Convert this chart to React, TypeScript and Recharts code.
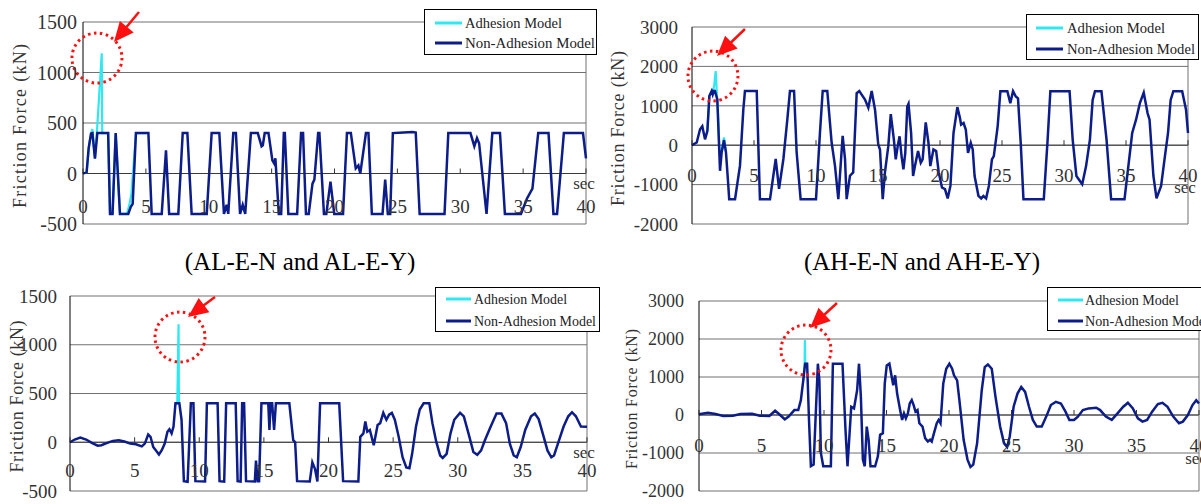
import React from 'react';
import { LineChart, Line, XAxis, YAxis, CartesianGrid, ReferenceLine, ReferenceDot } from 'recharts';

type Pt = [number, number];

const SERIF = "'Liberation Serif', 'DejaVu Serif', serif";
const NAVY = '#0c1d8a';
const CYAN = '#2fe8f2';
const RED = '#ff1010';

const xTicks = [0, 5, 10, 15, 20, 25, 30, 35, 40];
const alTicks = [-500, 0, 500, 1000, 1500];
const ahTicks = [-2000, -1000, 0, 1000, 2000, 3000];

// top left: AL-E-N / AL-E-Y
const tlNonAdh: Pt[] = [
  [0, 0], [0.29, 15], [0.45, 250], [0.64, 396], [0.75, 400], [0.95, 148], [1.14, 400], [2.0, 400], [2.15, -400],
  [2.35, -400], [2.6, 400], [2.94, -400], [3.6, -400], [3.8, -330], [3.95, -300], [4.21, 400], [5.2, 400],
  [5.46, -400], [6.26, -400], [6.6, 230], [6.85, -400], [7.58, -400], [7.93, 400], [8.3, 400], [8.64, -400],
  [9.84, -400], [10.23, 400], [10.84, 400], [11.21, -400], [11.42, -310], [11.55, -400], [11.95, 400], [12.16, 400],
  [12.49, -400], [12.7, -310], [12.9, -400], [13.35, 400], [13.9, 400], [14.2, 270], [14.3, 280], [14.45, 400],
  [14.75, 400], [15.06, 130], [15.2, 100], [15.3, 150], [15.57, -400], [15.76, -400], [15.97, 400], [16.05, 400],
  [16.33, -400], [17.03, -400], [17.34, 400], [17.5, 400], [17.73, -400], [17.95, -400], [18.25, -100], [18.4, -60],
  [18.7, 400], [18.8, 400], [19.16, -400], [19.35, -400], [19.68, -80], [19.98, -400], [20.68, -400], [20.99, 400],
  [21.3, 400], [21.69, 50], [21.9, 80], [22.05, 0], [22.5, 400], [22.7, 400], [22.97, -400], [23.82, -400],
  [24.03, -60], [24.24, -400], [24.43, -400], [24.64, 400], [25.5, 405], [26.2, 410], [26.46, 405], [26.77, -400],
  [28.75, -400], [29.05, 400], [30.81, 400], [31.12, 270], [31.33, 350], [31.5, 300], [32.09, -400], [32.55, 400],
  [33.16, 400], [33.55, -400], [34.83, -400], [35.3, -250], [35.74, -150], [36.2, 400], [37.02, 400], [37.41, -400],
  [37.7, -400], [38.24, 400], [39.76, 400], [40, 150],
];
const tlAdh: Pt[] = [
  [0, 0], [0.29, 15], [0.5, 300], [0.74, 440], [0.95, 150], [1.1, 400], [1.25, 700], [1.4, 1000], [1.49, 1190],
  [1.53, 400], [2.0, 400], [2.15, -400], [2.35, -400], [2.6, 400], [2.94, -400], [3.5, -400], [3.7, -300],
  [3.85, -200], [4.21, 400], [5.0, 400],
];

// top right: AH-E-N / AH-E-Y
const trNonAdh: Pt[] = [
  [0, 0], [0.38, 68], [0.65, 405], [0.83, 480], [1.05, 150], [1.24, 362], [1.4, 1247], [1.59, 1375], [1.67, 1290],
  [1.75, 1375], [1.85, 1375], [2.04, 1164], [2.26, -650], [2.39, -180], [2.58, 130], [2.74, -180], [2.92, -990],
  [3.0, -1370], [3.47, -1370], [3.87, -520], [4.14, 910], [4.27, 1375], [5.22, 1375], [5.48, -1370], [6.29, -1370],
  [6.75, -350], [7.02, -1110], [7.37, -350], [7.69, 660], [7.9, 1375], [8.23, 1375], [8.44, -185], [8.76, -1370],
  [10.0, -1370], [10.32, 320], [10.54, 1375], [10.91, 1375], [11.26, 68], [11.53, -520], [11.8, -1370], [12.15, 236],
  [12.34, -350], [12.47, -1370], [12.74, -775], [13.0, -690], [13.28, 1320], [13.49, 1375], [13.95, 1160],
  [14.22, 950], [14.49, 1375], [14.76, 900], [15.02, 17], [15.16, -110], [15.38, -1370], [15.56, -690], [15.83, -25],
  [16.03, 790], [16.28, 143], [16.43, -360], [16.59, -25], [16.74, 227], [16.9, -277], [17.05, -613], [17.2, -193],
  [17.36, 983], [17.46, 1050], [17.67, 310], [17.83, -781], [17.98, -530], [18.23, -150], [18.45, -445], [18.6, -360],
  [18.85, 580], [19.07, 59], [19.22, -530], [19.47, -109], [19.69, -150], [19.9, -697], [20.16, -1075], [20.4, -1117],
  [20.62, -1350], [20.84, -1033], [21.09, 310], [21.4, 966], [21.61, 689], [21.7, 520], [21.9, 563], [22.08, 395],
  [22.26, -193], [22.48, 59], [22.64, -109], [22.79, -781], [23.1, -1285], [23.32, -1350], [23.5, -1290],
  [23.72, -1350], [23.94, -1033], [24.19, -360], [24.34, -277], [24.65, 479], [24.87, 1370], [25.43, 1370],
  [25.67, 1067], [25.89, 1370], [26.11, 1235], [26.29, 1190], [26.51, 59], [26.73, -1370], [28.37, -1370],
  [28.68, 143], [28.9, 1370], [30.45, 1370], [30.7, 143], [31.0, -781], [31.47, -990], [31.78, -530], [32.09, 143],
  [32.31, 1150], [32.5, 1370], [33.02, 1370], [33.43, 143], [33.8, -1370], [34.88, -1370], [35.19, -530],
  [35.5, 310], [35.81, 647], [36.12, 1067], [36.43, 1335], [36.74, 815], [36.9, 647], [37.21, -781], [37.46, -1350],
  [37.83, -1033], [38.14, -277], [38.39, 310], [38.6, 1150], [38.82, 1370], [39.53, 1370], [39.84, 900], [40, 310],
];
const trAdh: Pt[] = [
  [1.24, 362], [1.4, 1247], [1.59, 1375], [1.67, 1290], [1.8, 1550], [1.91, 1880], [2.0, 1350], [2.1, 800],
  [2.2, 0], [2.3, -250], [2.45, -100], [2.58, 200], [2.74, -180],
];

// bottom left
const blNonAdh: Pt[] = [
  [0, 0], [0.36, 28], [0.8, 49], [1.25, 28], [1.69, -7], [2.14, -35], [2.43, -31], [2.88, -7], [3.32, 14],
  [3.77, 21], [4.21, 7], [4.66, -14], [5.1, -21], [5.55, -42], [5.79, -14], [6.05, 80], [6.23, 56], [6.44, -49],
  [6.74, -101], [6.88, -126], [7.09, -84], [7.33, -14], [7.54, 108], [7.69, 133], [7.86, 91], [8.01, 161],
  [8.16, 399], [8.46, 399], [8.63, 231], [8.81, -399], [9.1, -405], [9.35, 399], [9.55, 399], [9.7, -399],
  [10.45, -403], [10.59, 399], [11.42, 399], [11.57, -399], [11.93, -403], [12.08, 399], [12.82, 399], [12.97, -399],
  [13.2, -403], [13.32, 399], [13.47, 399], [13.62, -399], [14.3, -403], [14.39, -189], [14.51, -399], [14.63, -399],
  [14.81, 399], [15.34, 399], [15.43, 126], [15.52, 399], [15.64, 399], [15.79, 126], [15.93, 399], [16.97, 399],
  [17.27, 21], [17.42, 0], [17.57, -399], [18.55, -403], [18.75, -206], [18.96, -276], [19.14, -403], [19.35, 399],
  [20.83, 399], [21.13, -399], [22.31, -403], [22.46, 56], [22.7, 91], [22.85, 213], [23.0, 108], [23.2, 126],
  [23.5, -31], [23.8, 178], [24.0, 196], [24.24, 301], [24.48, 231], [24.69, 283], [24.9, 301], [25.13, 231],
  [25.43, 56], [25.73, -154], [26.02, -259], [26.26, -266], [26.47, -119], [26.77, 161], [27.06, 336], [27.36, 399],
  [27.8, 399], [28.04, 196], [28.34, 3], [28.64, -136], [28.84, -161], [29.14, -119], [29.44, 91], [29.73, 231],
  [30.18, 301], [30.47, 266], [30.83, 91], [31.21, -101], [31.51, -129], [31.81, -84], [32.1, 21], [32.55, 161],
  [33.0, 294], [33.38, 294], [33.74, 196], [34.03, -14], [34.33, -136], [34.57, -154], [34.87, -49], [35.22, 126],
  [35.67, 266], [35.96, 294], [36.26, 238], [36.65, 56], [36.94, -84], [37.24, -154], [37.45, -136], [37.84, 21],
  [38.19, 161], [38.55, 266], [38.84, 308], [39.14, 266], [39.53, 161], [40, 160],
];
const blAdh: Pt[] = [
  [8.16, 399], [8.3, 399], [8.36, 900], [8.4, 1210], [8.43, 400], [8.46, 399],
];

// bottom right
const brNonAdh: Pt[] = [
  [0, 20], [0.71, 61], [1.32, 26], [1.94, -26], [2.71, -17], [3.32, 26], [4.25, 35], [4.86, -17], [5.63, -26],
  [6.09, 113], [6.4, 26], [6.86, -113], [7.17, -43], [7.63, 130], [7.94, 130], [8.15, 391], [8.34, 913],
  [8.49, 1350], [8.65, 1350], [8.8, -130], [8.95, -1348], [9.17, -1305], [9.32, -130], [9.51, 1350], [9.63, 913],
  [9.75, -1000], [9.94, -1350], [10.55, -1350], [10.71, 1350], [11.48, 1350], [11.72, -391], [11.88, -1350],
  [12.03, -565], [12.18, 217], [12.4, 174], [12.65, 652], [12.8, 1350], [12.95, 478], [13.11, -1174], [13.26, -1350],
  [13.42, -304], [13.57, -652], [13.72, -1350], [14.09, -1350], [14.31, -1087], [14.49, -522], [14.71, -478],
  [14.86, 826], [15.02, 1305], [15.23, 1350], [15.42, 1000], [15.54, 783], [15.69, 1044], [15.85, 565], [16.09, 130],
  [16.25, -130], [16.4, 43], [16.55, -87], [16.71, 43], [16.86, 304], [17.02, 391], [17.17, 261], [17.32, 87],
  [17.48, 130], [17.63, -217], [17.88, -304], [18.09, -609], [18.31, -696], [18.49, -652], [18.62, -696],
  [18.8, -478], [19.02, -217], [19.17, -130], [19.32, -217], [19.54, 826], [19.78, 1218], [20.03, 1350],
  [20.25, 1218], [20.4, 1044], [20.65, 913], [20.86, 304], [21.17, -652], [21.48, -1174], [21.72, -1366],
  [21.94, -1305], [22.25, -740], [22.62, 652], [22.86, 1262], [23.11, 1331], [23.42, 1218], [23.72, 478],
  [24.09, -304], [24.4, -740], [24.65, -844], [24.86, -565], [25.17, 217], [25.48, 565], [25.78, 739], [26.09, 609],
  [26.4, 217], [26.71, -130], [27.02, -304], [27.42, -304], [27.78, -43], [28.15, 261], [28.55, 348], [28.95, 304],
  [29.32, 87], [29.63, -130], [30.0, -130], [30.31, -43], [30.71, 130], [31.17, 174], [31.78, 191], [32.09, 130],
  [32.55, -43], [33.02, -130], [33.48, 43], [33.94, 217], [34.31, 322], [34.71, 174], [35.11, -87], [35.48, -174],
  [35.85, -130], [36.25, 87], [36.71, 287], [37.08, 322], [37.48, 217], [37.94, -43], [38.4, -217], [38.71, -174],
  [39.11, 0], [39.48, 261], [39.78, 391], [40, 304],
];
const brAdh: Pt[] = [
  [8.34, 913], [8.45, 1350], [8.47, 1970], [8.5, 1350], [8.65, 1350],
];

const toPoints = (rows: Pt[]) => rows.map(([t, v]) => ({ t, v }));

const panels = [
  {
    key: 'tl', left: 0, top: 0, width: 600, height: 250,
    margin: { top: 22, right: 14, bottom: 25, left: 0 }, yAxisW: 83,
    yTicks: alTicks, yMin: -500, yMax: 1500, tickFont: 20, tickGap: 6, xFont: 19, labelGap: 33,
    secDx: -2, secDy: -23, titleX: 20, titleLen: 164, titleFont: 18,
    nonAdh: tlNonAdh, adh: tlAdh,
    mark: { t: 1.11, v: 1143, tail: [42, -46], tip: [17, -16] },
    legend: { left: 424, top: 9, w: 172, h: 45, sx1: 11, sx2: 38, tx: 41, row1: 14, row2: 34, len1: 97, len2: 130 },
  },
  {
    key: 'tr', left: 600, top: 0, width: 601, height: 250,
    margin: { top: 27, right: 13, bottom: 25, left: 0 }, yAxisW: 92,
    yTicks: ahTicks, yMin: -2000, yMax: 3000, tickFont: 19, tickGap: 14, xFont: 19, labelGap: 30,
    secDx: -3, secDy: 12, titleX: 18, titleLen: 155, titleFont: 18,
    nonAdh: trNonAdh, adh: trAdh,
    mark: { t: 1.69, v: 1756, tail: [32, -47], tip: [4, -20] },
    legend: { left: 426, top: 14, w: 172, h: 45, sx1: 10, sx2: 37, tx: 41, row1: 14, row2: 35, len1: 98, len2: 128 },
  },
  {
    key: 'bl', left: 0, top: 280, width: 600, height: 224,
    margin: { top: 16, right: 13, bottom: 12, left: 0 }, yAxisW: 70,
    yTicks: alTicks, yMin: -500, yMax: 1500, tickFont: 19, tickGap: 13, xFont: 19, labelGap: 28,
    secDx: -3, secDy: -18, titleX: 17, titleLen: 152, titleFont: 18,
    nonAdh: blNonAdh, adh: blAdh,
    mark: { t: 8.51, v: 1079, tail: [35, -40], tip: [8, -20] },
    legend: { left: 435, top: 7, w: 164, h: 44, sx1: 11, sx2: 36, tx: 39, row1: 12, row2: 34, len1: 93, len2: 122 },
  },
  {
    key: 'br', left: 600, top: 280, width: 601, height: 224,
    margin: { top: 21, right: 2, bottom: 12, left: 0 }, yAxisW: 99,
    yTicks: ahTicks, yMin: -2000, yMax: 3000, tickFont: 18, tickGap: 15, xFont: 19, labelGap: 30,
    secDx: -3, secDy: 13, titleX: 31, titleLen: 140, titleFont: 16,
    nonAdh: brNonAdh, adh: brAdh,
    mark: { t: 8.56, v: 1711, tail: [31, -47], tip: [4, -22] },
    legend: { left: 447, top: 7, w: 172, h: 43, sx1: 11, sx2: 36, tx: 38, row1: 13, row2: 34, len1: 94, len2: 124 },
  },
];

type PanelCfg = (typeof panels)[number];

// red dotted circle with an arrow pointing at it
const Annotation = (props: any) => {
  const { cx, cy, tail, tip } = props;
  if (cx == null || cy == null) return null;
  const dx = tip[0] - tail[0];
  const dy = tip[1] - tail[1];
  const len = Math.hypot(dx, dy);
  const ux = dx / len;
  const uy = dy / len;
  const headLen = 20;
  const headW = 9;
  const hx = cx + tip[0];
  const hy = cy + tip[1];
  const bx = hx - ux * headLen;
  const by = hy - uy * headLen;
  const pts = `${hx},${hy} ${bx - uy * headW},${by + ux * headW} ${bx + uy * headW},${by - ux * headW}`;
  return (
    <g>
      <circle cx={cx} cy={cy} r={25} fill="none" stroke={RED} strokeWidth={3} strokeDasharray="2.5 3.5" />
      <line x1={cx + tail[0]} y1={cy + tail[1]} x2={bx + ux * 2} y2={by + uy * 2} stroke={RED} strokeWidth={2.5} />
      <polygon points={pts} fill={RED} />
    </g>
  );
};

const LegendBox = ({ lg }: { lg: PanelCfg['legend'] }) => (
  <svg style={{ position: 'absolute', left: lg.left, top: lg.top, overflow: 'visible' }} width={lg.w + 1} height={lg.h + 1}>
    <rect x={0.5} y={0.5} width={lg.w} height={lg.h} fill="#fff" stroke="#000" strokeWidth={1} />
    <line x1={lg.sx1} x2={lg.sx2} y1={lg.row1} y2={lg.row1} stroke={CYAN} strokeWidth={3} />
    <line x1={lg.sx1} x2={lg.sx2} y1={lg.row2} y2={lg.row2} stroke={NAVY} strokeWidth={3} />
    <text x={lg.tx} y={lg.row1} dominantBaseline="central" fontFamily={SERIF} fontSize={15} fill="#222"
      textLength={lg.len1} lengthAdjust="spacingAndGlyphs">Adhesion Model</text>
    <text x={lg.tx} y={lg.row2} dominantBaseline="central" fontFamily={SERIF} fontSize={15} fill="#222"
      textLength={lg.len2} lengthAdjust="spacingAndGlyphs">Non-Adhesion Model</text>
  </svg>
);

const Panel = ({ p }: { p: PanelCfg }) => {
  const plotH = p.height - p.margin.top - p.margin.bottom - 1;
  const zeroFromBottom = (plotH * (0 - p.yMin)) / (p.yMax - p.yMin);

  const renderXTick = (props: any) => {
    const { x, y, payload } = props;
    const zeroY = y - zeroFromBottom;
    const ly = zeroY + p.labelGap;
    return (
      <g>
        <line x1={x} x2={x} y1={zeroY} y2={zeroY - 5} stroke="#333" />
        <text x={x} y={ly} textAnchor="middle" dominantBaseline="central" fontFamily={SERIF} fontSize={p.xFont} fill="#333">
          {payload.value}
        </text>
        {payload.value === 40 && (
          <text x={x + p.secDx} y={ly + p.secDy} textAnchor="middle" dominantBaseline="central" fontFamily={SERIF} fontSize={17} fill="#333">
            sec
          </text>
        )}
      </g>
    );
  };

  const renderTitle = (props: any) => {
    const vb = props.viewBox || {};
    const cx = (vb.x || 0) + p.titleX;
    const cy = (vb.y || 0) + (vb.height || 0) / 2 + 3;
    return (
      <text x={cx} y={cy} transform={`rotate(-90 ${cx} ${cy})`} textAnchor="middle" dominantBaseline="central"
        fontFamily={SERIF} fontSize={p.titleFont} fill="#333" textLength={p.titleLen} lengthAdjust="spacing">
        Friction Force (kN)
      </text>
    );
  };

  return (
    <div style={{ position: 'absolute', left: p.left, top: p.top, width: p.width, height: p.height }}>
      <LineChart width={p.width} height={p.height} margin={p.margin}>
        <CartesianGrid horizontal vertical={false} stroke="#707070" />
        <XAxis dataKey="t" type="number" domain={[0, 40]} ticks={xTicks} interval={0} height={1}
          axisLine={false} tickLine={false} tickSize={0} tickMargin={0} tick={renderXTick} />
        <YAxis type="number" domain={[p.yMin, p.yMax]} ticks={p.yTicks} interval={0} width={p.yAxisW}
          allowDataOverflow axisLine={{ stroke: '#000' }} tickLine={false} tickSize={0} tickMargin={p.tickGap}
          tick={{ fontSize: p.tickFont, fill: '#333', fontFamily: SERIF }} label={{ content: renderTitle }} />
        <ReferenceLine y={0} stroke="#3a3a3a" />
        <ReferenceLine x={40} stroke="#707070" />
        <Line data={toPoints(p.adh)} dataKey="v" type="linear" stroke={CYAN} strokeWidth={2.2} dot={false}
          isAnimationActive={false} />
        <Line data={toPoints(p.nonAdh)} dataKey="v" type="linear" stroke={NAVY} strokeWidth={2.5} dot={false}
          isAnimationActive={false} />
        <ReferenceDot x={p.mark.t} y={p.mark.v} r={25} ifOverflow="visible"
          shape={(props: any) => <Annotation {...props} tail={p.mark.tail} tip={p.mark.tip} />} />
      </LineChart>
      <LegendBox lg={p.legend} />
    </div>
  );
};

const captionStyle: React.CSSProperties = {
  position: 'absolute', top: 248, width: 400, textAlign: 'center', fontFamily: SERIF, fontSize: 25,
  lineHeight: '28px', color: '#000',
};

export default function App() {
  return (
    <div style={{ position: 'absolute', left: 0, top: 0, width: 1201, height: 504, overflow: 'hidden', background: '#fff' }}>
      {panels.map((p) => (
        <Panel key={p.key} p={p} />
      ))}
      <div style={{ ...captionStyle, left: 100 }}>(AL-E-N and AL-E-Y)</div>
      <div style={{ ...captionStyle, left: 722 }}>(AH-E-N and AH-E-Y)</div>
    </div>
  );
}
